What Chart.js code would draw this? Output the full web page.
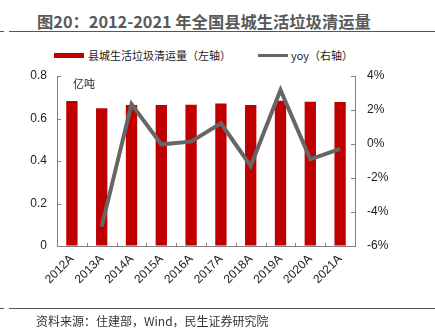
<!DOCTYPE html>
<html>
<head>
<meta charset="utf-8">
<script src="https://cdn.jsdelivr.net/npm/chart.js@4/dist/chart.umd.min.js"></script>
<style>
    html, body { margin: 0; padding: 0; background: #fff; }
    body { width: 435px; height: 334px; position: relative; overflow: hidden;
           font-family: "Noto Sans CJK SC", "Liberation Sans", sans-serif; }
    #chartBox { position: absolute; left: 0; top: 0; width: 435px; height: 334px; }
    .title { position: absolute; left: 37px; top: 9px; font-size: 16.3px; font-weight: bold;
             color: #595959; line-height: 24px; white-space: nowrap; }
    .rule { position: absolute; height: 1px; background: #555; }
    .legend-text { position: absolute; font-size: 11px; color: #222; line-height: 14px; white-space: nowrap; }
    .unit { position: absolute; left: 73px; top: 76px; font-size: 11px; color: #222; line-height: 14px; }
    .source { position: absolute; left: 36px; top: 313px; font-size: 12px; color: #333;
              line-height: 16px; white-space: nowrap; }
</style>
</head>
<body>
<div class="title">图20：2012-2021 年全国县城生活垃圾清运量</div>
<div class="rule" style="left:0;top:31px;width:4px"></div>
<div class="rule" style="left:9px;top:31px;width:426px"></div>

<div style="position:absolute;left:54px;top:53px;width:30px;height:5px;background:#C00000"></div>
<div class="legend-text" style="left:88px;top:48px">县城生活垃圾清运量（左轴）</div>
<div style="position:absolute;left:258px;top:54px;width:30px;height:3px;background:#666"></div>
<div class="legend-text" style="left:291px;top:48px">yoy（右轴）</div>

<div id="chartBox"><canvas id="wasteChart" width="435" height="334"></canvas></div>
<div class="unit">亿吨</div>

<div class="rule" style="left:0;top:308px;width:4px"></div>
<div class="rule" style="left:9px;top:308px;width:426px"></div>
<div class="source">资料来源：住建部，Wind，民生证券研究院</div>

<script>
const years = ['2012A', '2013A', '2014A', '2015A', '2016A', '2017A', '2018A', '2019A', '2020A', '2021A'];
// county waste collection, 100 million tonnes
const volume = [0.682, 0.648, 0.664, 0.664, 0.665, 0.671, 0.664, 0.684, 0.679, 0.678];
// year-on-year change, %
const yoy = [null, -4.86, 2.35, -0.02, 0.14, 1.22, -1.29, 3.18, -0.9, -0.29];
const leftTicks = [0, 0.2, 0.4, 0.6, 0.8];
const rightTicks = [-6, -4, -2, 0, 2, 4];

const axisColor = '#808080';
const tickFont = { family: '"Liberation Sans", Arial, sans-serif', size: 12 };

// short tick marks pointing into the plot area
const innerTicks = {
    id: 'innerTicks',
    afterDraw(chart) {
        const { ctx, chartArea, scales } = chart;
        ctx.save();
        ctx.strokeStyle = axisColor;
        ctx.lineWidth = 1;
        ctx.beginPath();
        scales.y.ticks.forEach((t, i) => {
            const py = Math.round(scales.y.getPixelForTick(i)) + 0.5;
            ctx.moveTo(chartArea.left, py);
            ctx.lineTo(chartArea.left + 4, py);
        });
        scales.y1.ticks.forEach((t, i) => {
            const py = Math.round(scales.y1.getPixelForTick(i)) + 0.5;
            ctx.moveTo(chartArea.right, py);
            ctx.lineTo(chartArea.right - 4, py);
        });
        const step = (chartArea.right - chartArea.left) / years.length;
        for (let i = 1; i < years.length; i++) {
            const px = Math.round(chartArea.left + step * i) + 0.5;
            ctx.moveTo(px, chartArea.bottom);
            ctx.lineTo(px, chartArea.bottom - 3);
        }
        ctx.stroke();
        ctx.restore();
    }
};

new Chart(document.getElementById('wasteChart'), {
    data: {
        labels: years,
        datasets: [
            {
                type: 'line',
                label: 'yoy（右轴）',
                data: yoy,
                yAxisID: 'y1',
                borderColor: '#666666',
                borderWidth: 4,
                pointRadius: 0,
                tension: 0,
                spanGaps: false,
                order: 1
            },
            {
                type: 'bar',
                label: '县城生活垃圾清运量（左轴）',
                data: volume,
                yAxisID: 'y',
                backgroundColor: '#C00000',
                barPercentage: 0.38,
                categoryPercentage: 1,
                order: 2
            }
        ]
    },
    options: {
        responsive: false,
        animation: false,
        layout: { padding: { top: 76, left: 0, right: 0, bottom: 0 } },
        plugins: {
            legend: { display: false },
            tooltip: { enabled: false }
        },
        scales: {
            x: {
                grid: { display: false, drawTicks: false },
                border: { color: axisColor },
                ticks: {
                    color: '#222',
                    font: tickFont,
                    maxRotation: 45,
                    minRotation: 45,
                    padding: 6
                },
                afterFit: s => { s.height = 88; }
            },
            y: {
                position: 'left',
                min: 0,
                max: 0.8,
                afterBuildTicks: s => { s.ticks = leftTicks.map(v => ({ value: v })); },
                grid: { drawOnChartArea: false, drawTicks: false },
                border: { color: axisColor },
                ticks: {
                    color: '#222',
                    font: tickFont,
                    padding: 10,
                    callback: v => String(v)
                },
                afterFit: s => { s.width = 57; }
            },
            y1: {
                position: 'right',
                min: -6,
                max: 4,
                afterBuildTicks: s => { s.ticks = rightTicks.map(v => ({ value: v })); },
                grid: { drawOnChartArea: false, drawTicks: false },
                border: { color: axisColor },
                ticks: {
                    color: '#222',
                    font: tickFont,
                    padding: 12,
                    callback: v => v + '%'
                },
                afterFit: s => { s.width = 80; }
            }
        }
    },
    plugins: [innerTicks]
});
</script>
</body>
</html>
